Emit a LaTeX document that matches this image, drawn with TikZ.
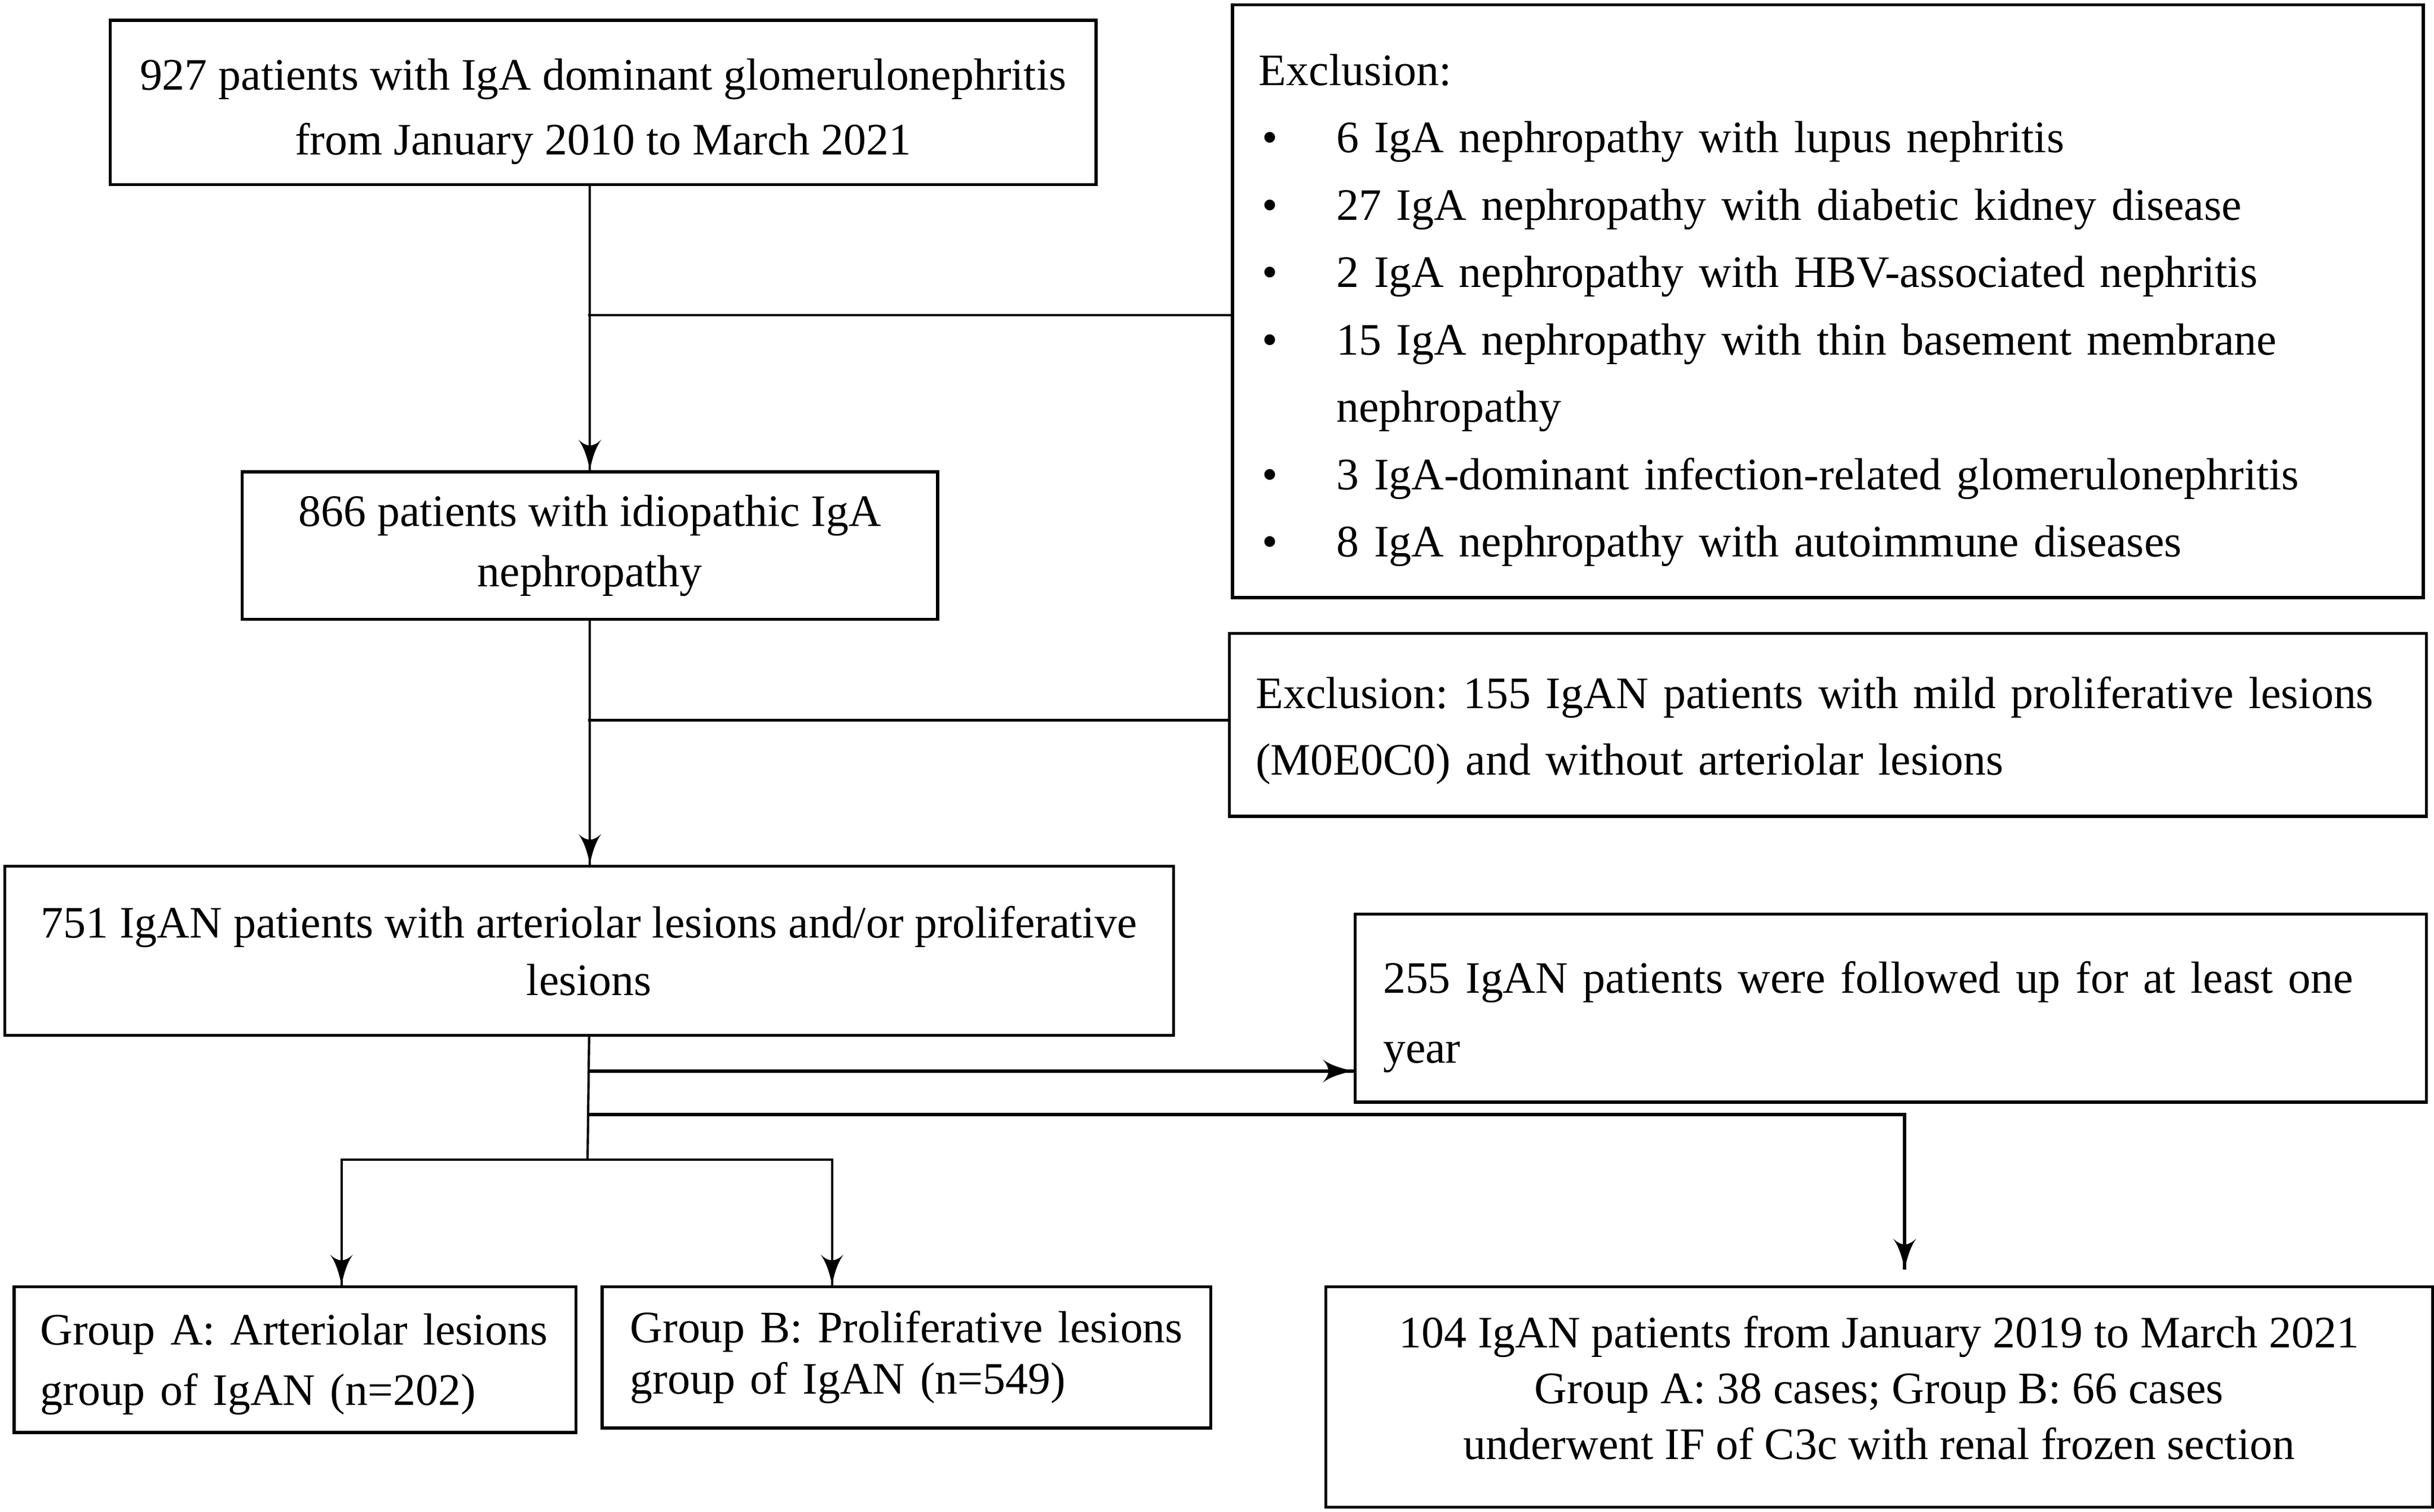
\documentclass[tikz,border=0pt]{standalone}
\usepackage{fontspec}
\setmainfont{Liberation Serif}
\usetikzlibrary{arrows}
\usetikzlibrary{decorations.markings}
\usetikzlibrary{positioning}
\tikzset{flow/.style = {decoration={markings,
                                    mark=at position 1 with {\arrow[scale=2.7]{latex'}}},
                        postaction={decorate}}}
\tikzset{boldflow/.style = {line width=2.1pt, decoration={markings,
                                    mark=at position 1 with {\arrow[scale=2.2]{latex'}}},
                        postaction={decorate}}}
\tikzset{box/.style = {draw, line width=2pt, anchor=north west, inner sep=0pt,
                       font=\fontsize{29}{42}\selectfont}}
\newcommand{\bul}{\hspace*{2pt}\makebox[48pt][l]{\textbullet}}
\frenchspacing

\begin{document}
\begin{tikzpicture}[x=1pt, y=-1pt, line width=1.5pt]
    \useasboundingbox (0, 0) rectangle (1568, 974);

    \node [box, minimum width=635pt, minimum height=106pt, align=center] (total) at (70, 12)
        {\rule{0pt}{32pt}927 patients with IgA dominant glomerulonephritis\\from January 2010 to March 2021};
    \node [box, inner xsep=17pt, text width=733pt, minimum height=382pt, align=left,
           font=\fontsize{29}{43.4}\selectfont] (excl) at (793, 2)
        {\rule{0pt}{32pt}Exclusion:\\
         \bul 6 IgA nephropathy with lupus nephritis\\
         \bul 27 IgA nephropathy with diabetic kidney disease\\
         \bul 2 IgA nephropathy with HBV-associated nephritis\\
         \bul 15 IgA nephropathy with thin basement membrane\\
         \hspace*{50pt}nephropathy\\
         \bul 3 IgA-dominant infection-related glomerulonephritis\\
         \bul 8 IgA nephropathy with autoimmune diseases};
    \node [box, minimum width=448pt, minimum height=95pt, align=center,
           font=\fontsize{29}{39}\selectfont] (patients) at (155, 303)
        {866 patients with idiopathic IgA\\nephropathy};
    \node [box, inner xsep=17pt, text width=737pt, minimum height=118pt, align=left,
           font=\fontsize{29}{43}\selectfont] (exclmild) at (791, 407)
        {\rule{0pt}{28pt}Exclusion: 155 IgAN patients with mild proliferative lesions\\(M0E0C0) and without arteriolar lesions};
    \node [box, minimum width=753pt, minimum height=109pt, align=center,
           font=\fontsize{29}{37}\selectfont] (lesions) at (2, 557)
        {751 IgAN patients with arteriolar lesions and/or proliferative\\lesions};
    \node [box, inner xsep=18pt, text width=654pt, minimum height=121pt, align=left,
           font=\fontsize{29}{45}\selectfont] (followup) at (872, 588)
        {\rule{0pt}{32pt}255 IgAN patients were followed up for at least one\\year};
    \node [box, inner xsep=17pt, text width=328pt, minimum height=94pt, align=left,
           font=\fontsize{29}{39}\selectfont] (grpA) at (8, 828)
        {\rule{0pt}{26pt}Group A: Arteriolar lesions\\group of IgAN (n=202)};
    \node [box, inner xsep=18pt, text width=356pt, minimum height=91pt, align=left,
           font=\fontsize{29}{33}\selectfont] (grpB) at (387, 828)
        {Group B: Proliferative lesions\\group of IgAN (n=549)};
    \node [box, minimum width=713pt, minimum height=142pt, align=center,
           font=\fontsize{29}{36}\selectfont] (ifgroup) at (853, 828)
        {104 IgAN patients from January 2019 to March 2021\\Group A: 38 cases; Group B: 66 cases\\underwent IF of C3c with renal frozen section\rule[-12pt]{0pt}{0pt}};

    % exclusions
    \draw [flow] (patients.north |- total.south) -- (patients.north);
    \coordinate (j1) at (379, 203);
    \draw (j1) -- (j1 -| excl.west);
    \draw [flow] (patients.south) -- (patients.south |- lesions.north);
    \coordinate (j2) at (379, 464);
    \draw (j2) -- (j2 -| exclmild.west);

    % split into groups
    \coordinate (split) at (378.5, 747);
    \coordinate (toA) at (220, 747);
    \coordinate (toB) at (536, 747);
    \draw (lesions.south) -- (split);
    \draw [flow] (split) -- (toA) -- (toA |- grpA.north);
    \draw [flow] (split) -- (toB) -- (toB |- grpB.north);

    % follow up and IF
    \coordinate (j3) at (378.5, 690);
    \draw [boldflow] (j3) -- (j3 -| followup.west);
    \coordinate (j4) at (378.5, 718);
    \coordinate (bend) at (1227, 718);
    \coordinate (stop) at (1227, 818);
    \draw [boldflow] (j4) -- (bend) -- (stop);
\end{tikzpicture}
\end{document}
